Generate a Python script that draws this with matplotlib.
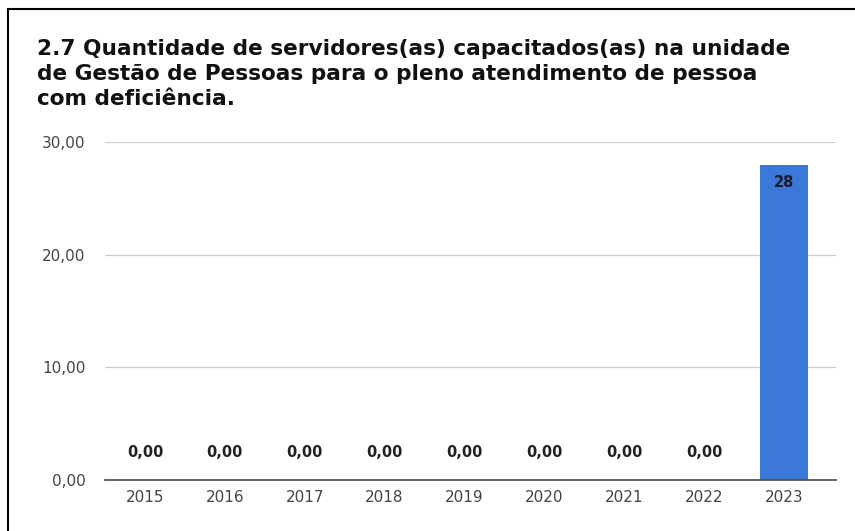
import matplotlib.pyplot as plt
from matplotlib.lines import Line2D

plt.rcParams['font.family'] = ['DejaVu Sans']

anos = ['2015', '2016', '2017', '2018', '2019', '2020', '2021', '2022', '2023']
valores = [0, 0, 0, 0, 0, 0, 0, 0, 28]
rotulos = ['0,00', '0,00', '0,00', '0,00', '0,00', '0,00', '0,00', '0,00', '28']
yticks = [0, 10, 20, 30]
ylabels = ['0,00', '10,00', '20,00', '30,00']
titulo = ('2.7 Quantidade de servidores(as) capacitados(as) na unidade\n'
          'de Gestão de Pessoas para o pleno atendimento de pessoa\n'
          'com deficiência.')

fig = plt.figure(figsize=(8.55, 5.31), dpi=100)
ax = fig.add_axes([105 / 855, 1 - 480 / 531, 731 / 855, 338 / 531])

x = range(len(anos))
bars = ax.bar(x, valores, width=0.6, color='#3c78d8', zorder=3)

for i, (v, r) in enumerate(zip(valores, rotulos)):
    if v > 0:
        ax.text(i, v - 0.9, r, ha='center', va='top', fontsize=10.5,
                fontweight='bold', color='#1a1a2e', zorder=4)
    else:
        ax.text(i, v + 1.8, r, ha='center', va='bottom', fontsize=10.5,
                fontweight='bold', color='#222222', zorder=4)

ax.set_ylim(0, 30)
ax.set_xlim(-0.5, len(anos) - 0.35)
ax.set_yticks(yticks)
ax.set_yticklabels(ylabels)
ax.set_xticks(list(x))
ax.set_xticklabels(anos)
ax.tick_params(axis='both', length=0, labelsize=11, colors='#444444')
ax.tick_params(axis='y', pad=14)
ax.tick_params(axis='x', pad=7)
ax.grid(axis='y', color='#cccccc', linewidth=0.9, zorder=0)
for s in ['top', 'right', 'left']:
    ax.spines[s].set_visible(False)
ax.spines['bottom'].set_color('#555555')
ax.spines['bottom'].set_linewidth(1.3)
ax.spines['bottom'].set_zorder(5)

fig.text(37 / 855, 1 - 39 / 531, titulo, ha='left', va='top', fontsize=15.6,
         fontweight='bold', color='#111111', linespacing=1.32)

# moldura da imagem
fig.add_artist(Line2D([8 / 855, 8 / 855], [0, 1 - 9 / 531], transform=fig.transFigure,
                      color='black', linewidth=1.5))
fig.add_artist(Line2D([8 / 855, 1], [1 - 9 / 531, 1 - 9 / 531], transform=fig.transFigure,
                      color='black', linewidth=1.5))

fig.savefig('out.png', dpi=100)
